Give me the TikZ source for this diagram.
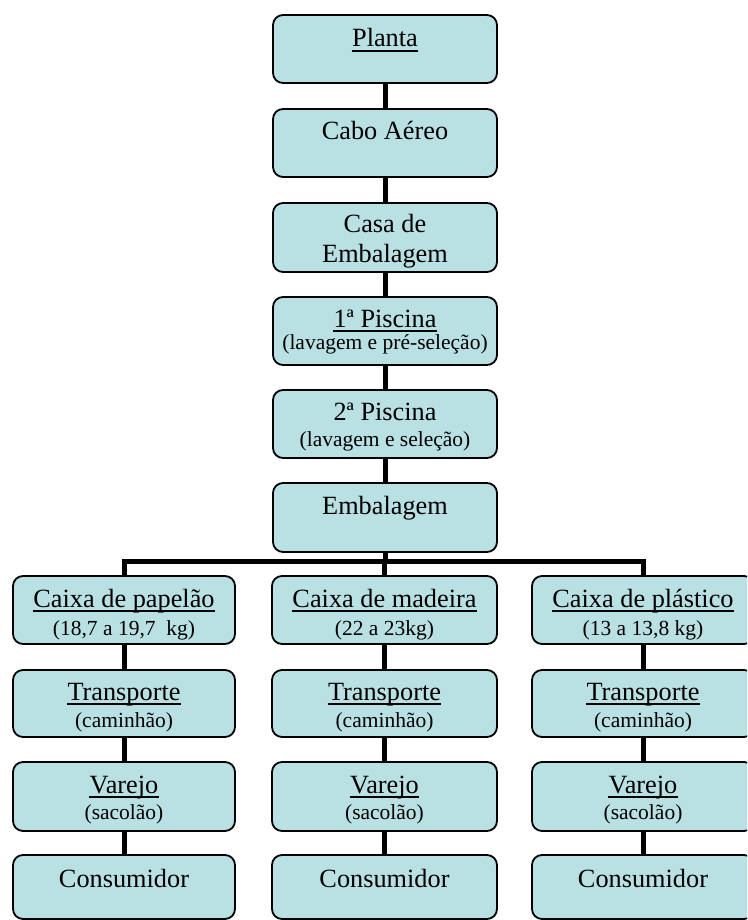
\documentclass[tikz,border=0pt]{standalone}
\usepackage{fontspec}
\setmainfont{Liberation Serif}
\definecolor{boxfill}{HTML}{B9E0E3}
\newcommand\ultext[3]{%
  \node[maintxt] (#1) at (#2) {#3};
  \draw[ulline] ([yshift=-4pt]#1.base west) -- ([yshift=-4pt]#1.base east);}
\begin{document}
\begin{tikzpicture}[x=1pt,y=-1pt,
  box/.style={draw=black, line width=1.8pt, fill=boxfill, rounded corners=10pt, inner sep=0pt},
  maintxt/.style={font=\fontsize{26.3}{30}\selectfont, inner sep=0pt, anchor=base},
  subtxt/.style={font=\fontsize{21.5}{25}\selectfont, inner sep=0pt, anchor=base},
  conn/.style={line width=5pt, line join=miter},
  ulline/.style={line width=1.6pt}]
\useasboundingbox (0,0) rectangle (747,920);
\clip (0,0) rectangle (747,920);

% top column
\node[box, minimum width=224pt, minimum height=68pt] (planta) at (385,49) {};
\node[box, minimum width=224pt, minimum height=68pt] (cabo) at (385,143) {};
\node[box, minimum width=224pt, minimum height=69pt] (casa) at (385,237.5) {};
\node[box, minimum width=224pt, minimum height=68pt] (pisc1) at (385,331) {};
\node[box, minimum width=224pt, minimum height=68pt] (pisc2) at (385,424) {};
\node[box, minimum width=224pt, minimum height=69pt] (emb) at (385,517.5) {};

\ultext{plantat}{385,47}{Planta}
\node[maintxt] (cabot) at (385,140) {Cabo Aéreo};
\node[maintxt] (casat1) at (385,232) {Casa de};
\node[maintxt] (casat2) at (385,262) {Embalagem};
\ultext{pisc1t}{385,327}{1ª Piscina}
\node[subtxt] (pisc1s) at (385,349) {(lavagem e pré-seleção)};
\node[maintxt] (pisc2t) at (385,420) {2ª Piscina};
\node[subtxt] (pisc2s) at (385,446) {(lavagem e seleção)};
\node[maintxt] (embt) at (385,514) {Embalagem};

\draw[conn] (planta.south) -- (cabo.north);
\draw[conn] (cabo.south) -- (casa.north);
\draw[conn] (casa.south) -- (pisc1.north);
\draw[conn] (pisc1.south) -- (pisc2.north);
\draw[conn] (pisc2.south) -- (emb.north);

% three columns
\foreach \c/\x/\w in {L/124/222, M/384.5/225, R/643/222} {
  \node[box, minimum width=\w pt, minimum height=68pt] (\c1) at (\x,610) {};
  \node[box, minimum width=\w pt, minimum height=67pt] (\c2) at (\x,703.5) {};
  \node[box, minimum width=\w pt, minimum height=69pt] (\c3) at (\x,796.5) {};
  \node[box, minimum width=\w pt, minimum height=64pt] (\c4) at (\x,887) {};
  \ultext{\c2t}{\x,700}{Transporte}
  \node[subtxt] (\c2s) at (\x,727) {(caminhão)};
  \ultext{\c3t}{\x,793}{Varejo}
  \node[subtxt] (\c3s) at (\x,819) {(sacolão)};
  \node[maintxt] (\c4t) at (\x,887) {Consumidor};
  \draw[conn] (\c1.south) -- (\c2.north);
  \draw[conn] (\c2.south) -- (\c3.north);
  \draw[conn] (\c3.south) -- (\c4.north);
}
\ultext{L1t}{124,607}{Caixa de papelão}
\node[subtxt] (L1s) at (124,635) {(18,7 a 19,7\ \ kg)};
\ultext{M1t}{384.5,607}{Caixa de madeira}
\node[subtxt] (M1s) at (384.5,635) {(22 a 23kg)};
\ultext{R1t}{643,607}{Caixa de plástico}
\node[subtxt] (R1s) at (643,635) {(13 a 13,8 kg)};

% branching bar
\coordinate (bar) at (385,561.5);
\draw[conn] (emb.south) -- (emb.south |- bar);
\draw[conn] (L1.north) -- (L1.north |- bar) -- (R1.north |- bar) -- (R1.north);
\draw[conn] (M1.north) -- (M1.north |- bar);
\end{tikzpicture}
\end{document}
